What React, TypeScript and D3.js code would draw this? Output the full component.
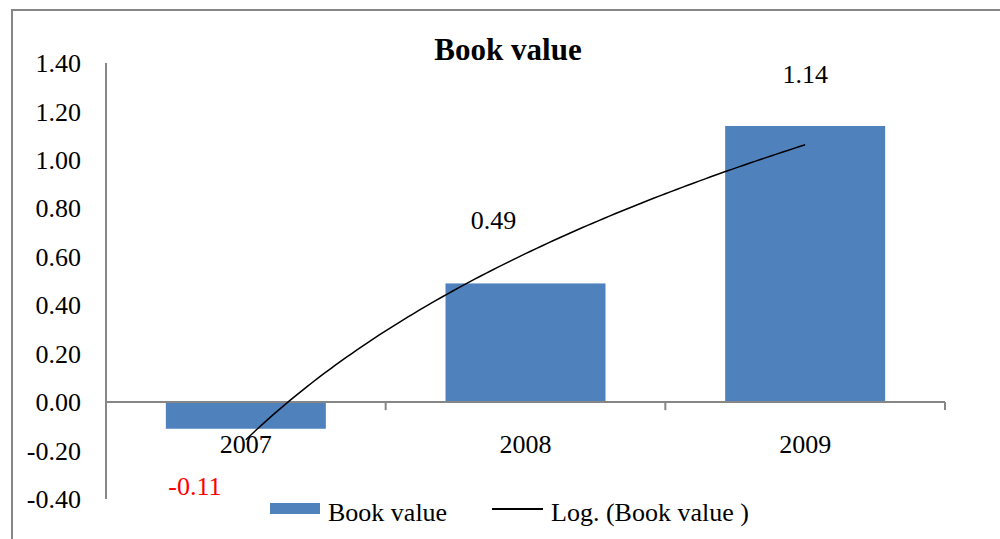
import React from 'react'
import * as d3 from 'd3'

const years = ['2007', '2008', '2009']
const bookValue = [-0.11, 0.49, 1.14]
const yTicks = [-0.4, -0.2, 0, 0.2, 0.4, 0.6, 0.8, 1.0, 1.2, 1.4]

const width = 1000
const height = 539
const font = '"Liberation Serif", "Times New Roman", serif'
const barColor = '#4F81BD'
const axisColor = '#868686'

// logarithmic trendline fitted to the bar values, y = a*ln(x) + b
function logFit (values: number[]) {
  const xs = values.map((_, i) => Math.log(i + 1))
  const mx = d3.mean(xs) as number
  const my = d3.mean(values) as number
  const sxy = d3.sum(xs, (x, i) => (x - mx) * (values[i] - my))
  const sxx = d3.sum(xs, x => (x - mx) * (x - mx))
  const a = sxy / sxx
  return { a, b: my - a * mx }
}

export default function App () {
  const x = d3.scaleBand<string>().domain(years).range([106, 945]).padding(0)
  const y = d3.scaleLinear().domain([-0.4, 1.4]).range([499, 63])
  const barW = x.bandwidth() * 0.572

  const fit = logFit(bookValue)
  const trendX = d3.scaleLinear().domain([1, years.length])
    .range([(x(years[0]) as number) + x.bandwidth() / 2, (x(years[years.length - 1]) as number) + x.bandwidth() / 2])
  const trendPts = d3.range(1, years.length + 0.001, 0.02).map(t => [trendX(t), y(fit.a * Math.log(t) + fit.b)] as [number, number])
  const trendPath = d3.line()(trendPts) as string

  // manual label offsets (dx, baseline y) as in the original chart
  const labelPos = [
    { dx: -51, y: 495, color: '#FF0000' },
    { dx: -32, y: 229, color: '#000' },
    { dx: 0, y: 83, color: '#000' }
  ]

  const bounds = d3.range(years.length + 1).map(i => 106 + i * x.bandwidth())

  return (
    <svg width={width} height={height} style={{ position: 'absolute', left: 0, top: 0 }} fontFamily={font}>
      <rect x={0} y={0} width={width} height={height} fill="#fff" />
      <path d={`M12,${height} V10 H${width}`} fill="none" stroke={axisColor} strokeWidth={2} />

      <text x={508} y={60} textAnchor="middle" fontSize={31} fontWeight="bold">Book value</text>

      {yTicks.map(t => (
        <text key={t} x={81} y={y(t)} dy="0.35em" textAnchor="end" fontSize={26}>{t.toFixed(2)}</text>
      ))}
      <line x1={106} x2={106} y1={y(1.4)} y2={y(-0.4)} stroke={axisColor} strokeWidth={2} />

      {years.map((yr, i) => {
        const v = bookValue[i]
        return (
          <rect key={yr} x={(x(yr) as number) + (x.bandwidth() - barW) / 2} width={barW}
            y={y(Math.max(0, v))} height={Math.abs(y(v) - y(0))} fill={barColor} />
        )
      })}

      <line x1={106} x2={945} y1={y(0)} y2={y(0)} stroke={axisColor} strokeWidth={2} />
      {bounds.slice(1).map(b => (
        <line key={b} x1={b} x2={b} y1={y(0)} y2={y(0) + 8} stroke={axisColor} strokeWidth={2} />
      ))}

      {years.map(yr => (
        <text key={yr} x={(x(yr) as number) + x.bandwidth() / 2} y={453} textAnchor="middle" fontSize={26}>{yr}</text>
      ))}

      <path d={trendPath} fill="none" stroke="#000" strokeWidth={1.5} />

      {years.map((yr, i) => (
        <text key={yr} x={(x(yr) as number) + x.bandwidth() / 2 + labelPos[i].dx} y={labelPos[i].y}
          textAnchor="middle" fontSize={26} fill={labelPos[i].color}>{bookValue[i].toFixed(2)}</text>
      ))}

      <rect x={270} y={503} width={50} height={11} fill={barColor} />
      <text x={328} y={521} fontSize={26}>Book value</text>
      <line x1={492} x2={543} y1={509} y2={509} stroke="#000" strokeWidth={2} />
      <text x={551} y={521} fontSize={26}>Log. (Book value )</text>
    </svg>
  )
}
